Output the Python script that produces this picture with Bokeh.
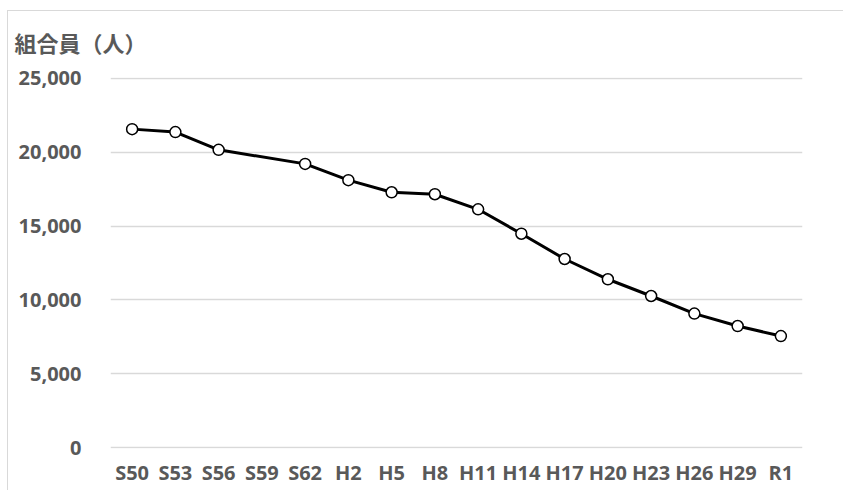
from bokeh.plotting import figure
from bokeh.models import FactorRange, Range1d, NumeralTickFormatter, FixedTicker
from bokeh.embed import file_html
from bokeh.resources import INLINE

categories = ["S50", "S53", "S56", "S59", "S62", "H2", "H5", "H8", "H11",
              "H14", "H17", "H20", "H23", "H26", "H29", "R1"]
# S59 has no data point; the line connects S56 directly to S62
data_years = ["S50", "S53", "S56", "S62", "H2", "H5", "H8", "H11",
              "H14", "H17", "H20", "H23", "H26", "H29", "R1"]
members = [21550, 21350, 20150, 19200, 18100, 17280, 17150, 16130,
           14480, 12770, 11400, 10270, 9080, 8240, 7560]
y_ticks = [0, 5000, 10000, 15000, 20000, 25000]
title_text = "組合員（人）"

p = figure(width=843, height=490, x_range=FactorRange(factors=categories, range_padding=0),
           y_range=Range1d(-40, 25040), output_backend="svg", toolbar_location=None,
           min_border_left=110, min_border_right=41, min_border_bottom=42, min_border_top=77)

p.title.text = title_text
p.title.align = "left"
p.title.text_font = "Noto Sans CJK JP"
p.title.text_font_size = "22px"
p.title.text_font_style = "bold"
p.title.text_color = "#595959"
p.title.offset = -96
p.title.standoff = 40

p.outline_line_color = None
p.background_fill_color = "white"
p.border_fill_color = None
p.styles = {
    "background": ("linear-gradient(#d9d9d9,#d9d9d9) 7px 10px / 1px 100% no-repeat, "
                   "linear-gradient(#d9d9d9,#d9d9d9) 7px 10px / 100% 1px no-repeat, white")
}

p.xgrid.grid_line_color = None
p.ygrid.grid_line_color = "#d9d9d9"
p.ygrid.grid_line_width = 1.5

p.yaxis.ticker = FixedTicker(ticks=y_ticks)
p.yaxis.formatter = NumeralTickFormatter(format="0,0")
for ax in (p.xaxis, p.yaxis):
    ax.axis_line_color = None
    ax.major_tick_line_color = None
    ax.minor_tick_line_color = None
    ax.major_tick_out = 0
    ax.major_tick_in = 0
    ax.major_label_text_font = "Open Sans"
    ax.major_label_text_font_size = "20px"
    ax.major_label_text_font_style = "bold"
    ax.major_label_text_color = "#595959"
p.yaxis.major_label_standoff = 29
p.xaxis.major_label_standoff = 10

p.line(data_years, members, line_color="black", line_width=3)
p.scatter(data_years, members, marker="circle", size=11, fill_color="white",
          line_color="black", line_width=1.5)

open("out.html", "w").write(file_html(p, INLINE))
